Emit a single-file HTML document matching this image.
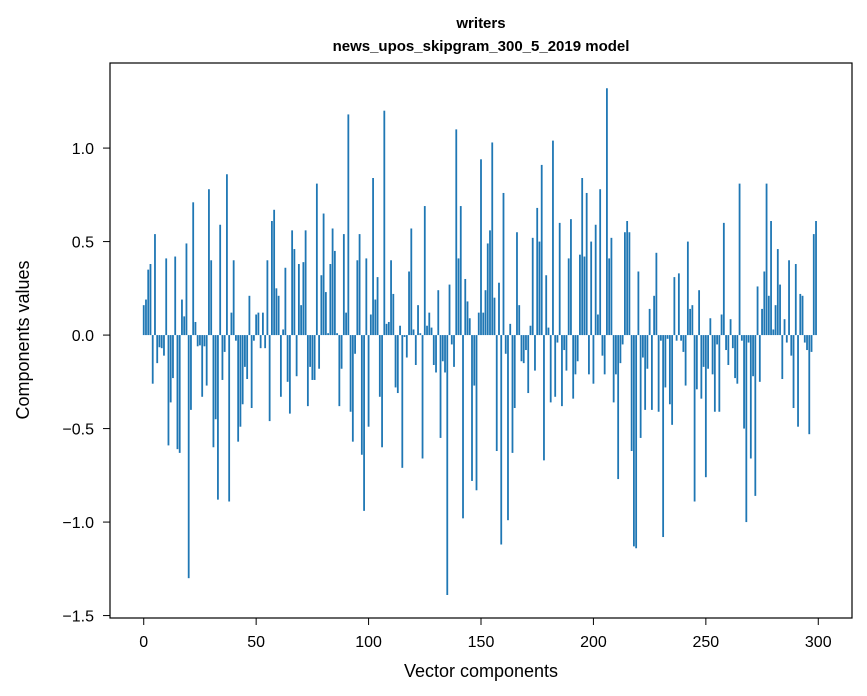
<!DOCTYPE html>
<html><head><meta charset="utf-8"><style>
body{margin:0;background:#fff;}
svg{display:block;font-family:"Liberation Sans",sans-serif;}
</style></head><body>
<svg id="chart" width="867" height="696">
<text x="481" y="28" text-anchor="middle" font-size="15" font-weight="bold">writers</text>
<text x="481" y="51" text-anchor="middle" font-size="15" font-weight="bold">news_upos_skipgram_300_5_2019 model</text>
<g id="bars"></g>
<g id="axes"></g>
<text x="481" y="677" text-anchor="middle" font-size="18">Vector components</text>
<text transform="translate(29,340) rotate(-90)" text-anchor="middle" font-size="18">Components values</text>
</svg>
<script>
const values = [0.16,0.19,0.35,0.38,-0.26,0.54,-0.15,-0.065,-0.07,-0.11,
0.41,-0.59,-0.36,-0.23,0.42,-0.61,-0.63,0.19,0.10,0.49,
-1.30,-0.40,0.71,0.07,-0.06,-0.055,-0.33,-0.06,-0.27,0.78,
0.40,-0.60,-0.45,-0.88,0.59,-0.24,-0.09,0.86,-0.89,0.12,
0.40,-0.03,-0.57,-0.49,-0.37,-0.17,-0.235,0.21,-0.39,-0.03,
0.11,0.12,-0.07,0.12,-0.07,0.40,-0.46,0.61,0.67,0.25,
0.21,-0.33,0.03,0.36,-0.25,-0.42,0.56,0.46,-0.22,0.38,
0.16,0.39,0.56,-0.38,-0.17,-0.24,-0.24,0.81,-0.18,0.32,
0.65,0.23,0.01,0.38,0.57,0.45,0.01,-0.38,-0.18,0.54,
0.12,1.18,-0.41,-0.57,-0.10,0.40,0.54,-0.64,-0.94,0.41,
-0.49,0.11,0.84,0.19,0.31,-0.33,-0.60,1.20,0.06,0.07,
0.40,0.22,-0.28,-0.31,0.05,-0.71,-0.01,-0.12,0.34,0.57,
0.03,-0.16,0.16,0.01,-0.66,0.69,0.05,0.12,0.04,-0.16,
-0.20,0.24,-0.55,-0.14,-0.20,-1.39,0.27,-0.05,-0.17,1.10,
0.41,0.69,-0.98,0.30,0.18,0.09,-0.78,-0.27,-0.83,0.12,
0.94,0.12,0.24,0.49,0.56,1.03,0.20,-0.62,0.28,-1.12,
0.76,-0.10,-0.99,0.06,-0.63,-0.39,0.55,0.16,-0.14,-0.15,
-0.08,-0.31,0.05,0.52,-0.19,0.68,0.50,0.91,-0.67,0.32,
0.04,-0.36,1.04,-0.33,-0.04,0.60,-0.38,-0.08,-0.19,0.41,
0.62,-0.34,-0.21,-0.14,0.43,0.84,0.42,0.76,-0.21,0.50,
-0.26,0.59,0.11,0.78,-0.11,-0.21,1.32,0.41,0.52,-0.36,
-0.21,-0.77,-0.15,-0.05,0.55,0.61,0.55,-0.62,-1.13,-1.14,
0.34,-0.55,-0.12,-0.40,-0.18,0.14,-0.40,0.21,0.44,-0.41,
-0.03,-1.08,-0.28,-0.02,-0.37,-0.48,0.31,-0.03,0.33,-0.03,
-0.09,-0.27,0.50,0.14,0.16,-0.89,-0.29,0.24,-0.34,-0.17,
-0.76,-0.18,0.09,-0.21,-0.41,-0.05,-0.41,0.11,0.60,-0.08,
-0.16,0.085,-0.07,-0.23,-0.26,0.81,-0.03,-0.50,-1.00,-0.04,
-0.66,-0.22,-0.86,0.26,-0.25,0.14,0.34,0.81,0.21,0.61,
0.03,0.16,0.46,0.27,-0.235,0.085,-0.04,0.40,-0.11,-0.39,
0.38,-0.49,0.22,0.21,-0.04,-0.08,-0.53,-0.09,0.54,0.61];
const xTicks = [0,50,100,150,200,250,300];
const yTicks = [-1.5,-1.0,-0.5,0.0,0.5,1.0];
const yTickLabels = ["\u22121.5","\u22121.0","\u22120.5","0.0","0.5","1.0"];

const L=110,R=852,T=63,B=618;
const xMin=-15,xMax=315,yMin=-1.513,yMax=1.455;
const xs=v=>L+(v-xMin)/(xMax-xMin)*(R-L);
const ys=v=>B-(v-yMin)/(yMax-yMin)*(B-T);
const NS="http://www.w3.org/2000/svg";
const bars=document.getElementById('bars');
values.forEach((v,i)=>{
  const r=document.createElementNS(NS,'rect');
  const x0=xs(i-0.4),x1=xs(i+0.4);
  const y0=ys(Math.max(v,0)),y1=ys(Math.min(v,0));
  r.setAttribute('x',x0);r.setAttribute('width',x1-x0);
  r.setAttribute('y',y0);r.setAttribute('height',Math.max(y1-y0,0.3));
  r.setAttribute('fill','#1f77b4');
  
  
  bars.appendChild(r);
});
const ax=document.getElementById('axes');
const fr=document.createElementNS(NS,'rect');
fr.setAttribute('x',L);fr.setAttribute('y',T);fr.setAttribute('width',R-L);fr.setAttribute('height',B-T);
fr.setAttribute('fill','none');fr.setAttribute('stroke','#000');fr.setAttribute('stroke-width','1.2');


ax.appendChild(fr);
xTicks.forEach(t=>{
  const x=xs(t);
  const l=document.createElementNS(NS,'line');
  l.setAttribute('x1',x);l.setAttribute('x2',x);l.setAttribute('y1',B);l.setAttribute('y2',B+7);l.setAttribute('stroke','#000');
  
  
  ax.appendChild(l);
  const tx=document.createElementNS(NS,'text');
  tx.setAttribute('x',x);tx.setAttribute('y',B+29);tx.setAttribute('text-anchor','middle');tx.setAttribute('font-size','16');
  tx.textContent=t;
  
  
  ax.appendChild(tx);
});
yTicks.forEach((t,k)=>{
  const y=ys(t);
  const l=document.createElementNS(NS,'line');
  l.setAttribute('x1',L-7);l.setAttribute('x2',L);l.setAttribute('y1',y);l.setAttribute('y2',y);l.setAttribute('stroke','#000');
  
  
  ax.appendChild(l);
  const tx=document.createElementNS(NS,'text');
  tx.setAttribute('x',L-16);tx.setAttribute('y',y+6);tx.setAttribute('text-anchor','end');tx.setAttribute('font-size','16');
  tx.textContent=yTickLabels[k];
  
  
  ax.appendChild(tx);
});
</script>
</body></html>
